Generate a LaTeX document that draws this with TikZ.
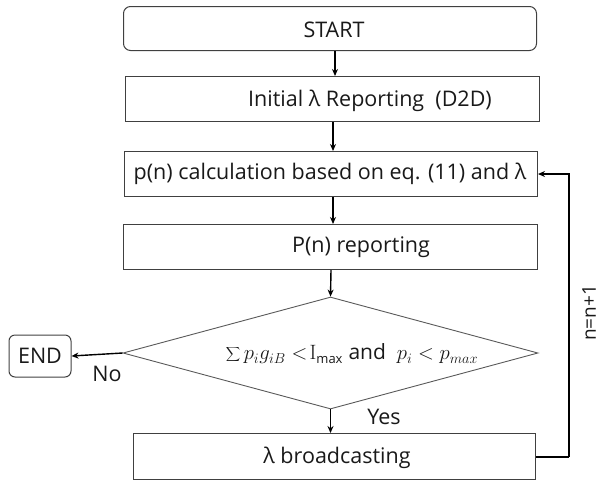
\documentclass[tikz,border=0pt]{standalone}
\usepackage[no-math]{fontspec}
\setmainfont{Open Sans}
\usetikzlibrary{shapes.geometric,arrows.meta}
\begin{document}
\begin{tikzpicture}[x=1pt,y=-1pt,
  box/.style={draw=black!75,line width=1pt,inner sep=0pt,anchor=north west},
  lbl/.style={font=\fontsize{21.5}{24}\selectfont,inner sep=0pt,text=black!90},
  arr/.style={-{Stealth[length=7pt,width=6pt]},line width=1.4pt,black},
  loop/.style={line width=1.4pt,black}]
\useasboundingbox (0,0) rectangle (601,482);
% boxes
\node[box,rounded corners=7pt,minimum width=413pt,minimum height=44pt] (start) at (123,6) {};
\node[box,minimum width=414pt,minimum height=45pt] (init) at (125,76) {};
\node[box,minimum width=413pt,minimum height=45pt] (calc) at (124,151) {};
\node[box,minimum width=414pt,minimum height=45pt] (rep) at (123,224) {};
\node[draw=black!65,line width=0.9pt,diamond,inner sep=0pt,minimum width=415pt,minimum height=112pt] (dec) at (330.5,353) {};
\node[box,minimum width=402pt,minimum height=46pt] (bc) at (133,433) {};
\node[draw=black!75,line width=1pt,rounded corners=6pt,minimum width=62pt,minimum height=42pt,inner sep=0pt,lbl] (end) at (40,356) {END};
% texts
\node[lbl] (tstart) at (334,30) {START};
\node[lbl] (tinit) at (370,101) {Initial λ Reporting\ \ (D2D)};
\node[lbl] (tcalc) at (330,174) {p(n) calculation based on eq. (11) and λ};
\node[lbl] (trep) at (361,247) {P(n) reporting};
\node[lbl] (tdec) at (352,354) {\fontsize{21}{24}\selectfont$\displaystyle\sum\nolimits p_i g_{iB} <\!\mathrm{I}_{\hbox{\fontsize{13}{13}\selectfont max}}$ and\ \ $p_i<p_{max}$};
\node[lbl] (tbc) at (337,458) {λ broadcasting};
\node[lbl] (tno) at (107,374) {No};
\node[lbl] (tyes) at (384,417) {Yes};
\node[lbl,rotate=90,font=\fontsize{19}{22}\selectfont] (tn) at (589,313) {n=n+1};
% connectors
\draw[arr] (start.south -| 335,0) -- (init.north -| 335,0);
\draw[arr] (init.south -| 333,0) -- (calc.north -| 333,0);
\draw[arr] (calc.south -| 333,0) -- (rep.north -| 333,0);
\draw[arr] (rep.south -| 331,0) -- (dec.north);
\draw[arr] (dec.south) -- (bc.north -| dec.south);
\draw[arr] (dec.west) -- (end.east);
\coordinate (lp) at (569,457);
\draw[loop] (bc.east |- lp) -- (lp);
\draw[arr] (lp) |- (calc.east);
\end{tikzpicture}
\end{document}
